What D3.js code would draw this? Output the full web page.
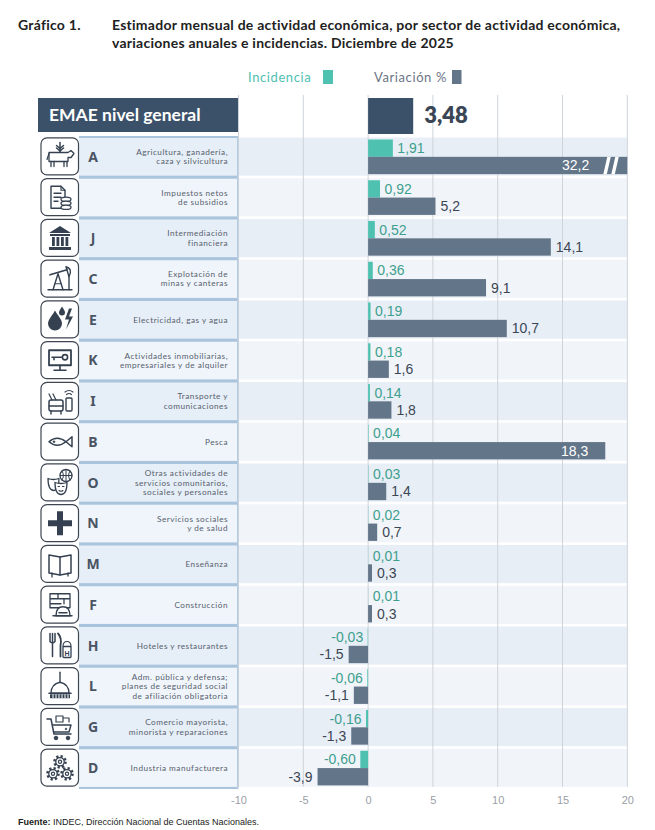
<!DOCTYPE html>
<html><head><meta charset="utf-8">
<script src="https://cdn.jsdelivr.net/npm/d3@7"></script>
<style>
body{margin:0;background:#fff;}
svg{display:block;}
</style></head><body>
<div id="chart"></div>
<script>
// ---------------- DATA ----------------
const codes = ["A","","J","C","E","K","I","B","O","N","M","F","H","L","G","D"];
const sectors = [
  ["Agricultura, ganadería,","caza y silvicultura"],
  ["Impuestos netos","de subsidios"],
  ["Intermediación","financiera"],
  ["Explotación de","minas y canteras"],
  ["Electricidad, gas y agua"],
  ["Actividades inmobiliarias,","empresariales y de alquiler"],
  ["Transporte y","comunicaciones"],
  ["Pesca"],
  ["Otras actividades de","servicios comunitarios,","sociales y personales"],
  ["Servicios sociales","y de salud"],
  ["Enseñanza"],
  ["Construcción"],
  ["Hoteles y restaurantes"],
  ["Adm. pública y defensa;","planes de seguridad social","de afiliación obligatoria"],
  ["Comercio mayorista,","minorista y reparaciones"],
  ["Industria manufacturera"]
];
const incidencia = [1.91,0.92,0.52,0.36,0.19,0.18,0.14,0.04,0.03,0.02,0.01,0.01,-0.03,-0.06,-0.16,-0.60];
const variacion = [32.2,5.2,14.1,9.1,10.7,1.6,1.8,18.3,1.4,0.7,0.3,0.3,-1.5,-1.1,-1.3,-3.9];
const emaeLabel = "EMAE nivel general";
const emaeValue = 3.48;
const tickValues = [-10,-5,0,5,10,15,20];
const iconKeys = ["agro","tax","bank","oil","energy","realestate","transport","fish","masks","health","book","build","hotel","gov","cart","gears"];
const titleLead = "Gráfico 1.";
const titleLines = ["Estimador mensual de actividad económica, por sector de actividad económica,","variaciones anuales e incidencias. Diciembre de 2025"];
const legendLabels = ["Incidencia","Variación %"];
const sourceBold = "Fuente:";
const sourceText = " INDEC, Dirección Nacional de Cuentas Nacionales.";

// ---------------- LAYOUT ----------------
const W = 655, H = 830;
const C_TEAL = "#4fc1b1", C_TEAL_TXT = "#3f9f8e", C_BAR = "#637588", C_NAVY = "#3b5169", C_ICON = "#354150";
const NUM_FONT = "'Liberation Sans Narrow','Arial Narrow','Liberation Sans',Arial,sans-serif";
const GEO_FONT = "Lato,'Noto Sans',sans-serif";
const locale = d3.formatLocale({decimal: ",", thousands: ".", grouping: [3], currency: ["$", ""], minus: "-"});
const fmt = locale.format(".2f");
const fmt1 = locale.format(".1f");

const svg = d3.select("#chart").append("svg").attr("width", W).attr("height", H);

const x = d3.scaleLinear().domain([-10, 20]).range([238.5, 627.3]);
const rowTop = 137.5, rowH = 40.75;
const y = d3.scaleBand().domain(d3.range(codes.length)).range([rowTop, rowTop + rowH * codes.length]).paddingInner(0).paddingOuter(0);
const gap = 2.6;
const barH = (rowH - gap - 3.5) / 2;

// Title
const tg = svg.append("g").attr("font-family", GEO_FONT).attr("font-weight", 700).attr("font-size", 14).attr("fill", "#222").attr("letter-spacing", 0.25);
tg.append("text").attr("x", 18).attr("y", 30).text(titleLead);
titleLines.forEach((t, i) => tg.append("text").attr("x", 112).attr("y", 30 + i * 18).text(t));

// Legend
const lg = svg.append("g").attr("font-family", GEO_FONT).attr("font-size", 13).attr("letter-spacing", 0.6);
lg.append("text").attr("x", 248).attr("y", 81.5).attr("fill", C_TEAL).text(legendLabels[0]);
lg.append("rect").attr("x", 323).attr("y", 70).attr("width", 10).attr("height", 14).attr("fill", C_TEAL);
lg.append("text").attr("x", 374).attr("y", 81.5).attr("fill", "#6b7584").text(legendLabels[1]);
lg.append("rect").attr("x", 452).attr("y", 70).attr("width", 9.5).attr("height", 14).attr("fill", C_BAR);

// Stripes (chart area)
svg.append("g").selectAll("rect").data(codes).join("rect")
  .attr("x", x(-10)).attr("width", x(20) - x(-10))
  .attr("y", (d, i) => y(i)).attr("height", rowH - gap)
  .attr("fill", (d, i) => i % 2 === 0 ? "#e7eef6" : "#f1f5fa");

// Gridlines
svg.append("g").selectAll("line").data(tickValues).join("line")
  .attr("x1", d => x(d)).attr("x2", d => x(d))
  .attr("y1", 95).attr("y2", y(codes.length - 1) + rowH - gap)
  .attr("stroke", "#cfd4da").attr("stroke-width", 1);

// Header row
svg.append("rect").attr("x", 38).attr("y", 98).attr("width", 200).attr("height", 34).attr("fill", C_NAVY);
svg.append("text").attr("x", 49).attr("y", 121).attr("fill", "#fff").attr("font-family", GEO_FONT)
  .attr("font-weight", 700).attr("font-size", 17.5).text(emaeLabel);
svg.append("rect").attr("x", x(0)).attr("y", 98).attr("width", x(emaeValue) - x(0)).attr("height", 36).attr("fill", C_NAVY);
svg.append("text").attr("x", x(emaeValue) + 11).attr("y", 123).attr("fill", "#3a4656").attr("font-family", GEO_FONT)
  .attr("font-weight", 800).attr("font-size", 22).text(fmt(emaeValue));

// Left panel
const panel = svg.append("g");
panel.append("rect").attr("x", 79).attr("y", rowTop - 1.5).attr("width", 159).attr("height", rowH * codes.length + 1)
  .attr("fill", "#aac4dd");
panel.selectAll("rect.cell").data(codes).join("rect").attr("class", "cell")
  .attr("x", 79).attr("width", 158).attr("y", (d, i) => y(i) + 0.5).attr("height", rowH - gap - 0.5)
  .attr("fill", (d, i) => i % 2 === 0 ? "#e6eef7" : "#f0f5fb");
panel.append("line").attr("x1", 238).attr("x2", 238).attr("y1", rowTop - 1.5).attr("y2", rowTop + rowH * codes.length)
  .attr("stroke", "#c3d2e1").attr("stroke-width", 1);

const rows = panel.selectAll("g.row").data(codes).join("g").attr("class", "row")
  .attr("transform", (d, i) => `translate(0,${y(i)})`);
rows.append("rect").attr("x", 41).attr("y", 0.3).attr("width", 37.5).attr("height", rowH - gap - 1)
  .attr("rx", 6).attr("fill", "#fff").attr("stroke", "#3e4652").attr("stroke-width", 1.2);
rows.append("text").attr("x", 93).attr("y", (rowH - gap) / 2 + 5).attr("text-anchor", "middle")
  .attr("font-family", "'Noto Sans',sans-serif").attr("font-weight", 700).attr("font-size", 14).attr("fill", "#4a5463")
  .text(d => d);
rows.each(function (d, i) {
  const lines = sectors[i];
  const g = d3.select(this);
  const lh = 9.2;
  const cy = (rowH - gap) / 2;
  lines.forEach((t, k) => {
    g.append("text").attr("x", 228).attr("y", cy + (k - (lines.length - 1) / 2) * lh + 3)
      .attr("text-anchor", "end").attr("font-family", GEO_FONT).attr("font-size", 8.2)
      .attr("letter-spacing", 0.5).attr("fill", "#56606d").text(t);
  });
  const ig = g.append("g").attr("transform", "translate(41,0)");
  drawIcon(ig, iconKeys[i]);
});

// Incidence bars
const clip = v => Math.max(-10, Math.min(20, v));
svg.append("g").selectAll("rect").data(incidencia).join("rect")
  .attr("x", d => x(Math.min(0, d))).attr("width", d => Math.abs(x(d) - x(0)))
  .attr("y", (d, i) => y(i) + 2).attr("height", barH).attr("fill", C_TEAL);
svg.append("g").selectAll("text").data(incidencia).join("text")
  .attr("x", d => d >= 0 ? x(d) + 4.5 : x(d) - 4.5)
  .attr("text-anchor", d => d >= 0 ? "start" : "end")
  .attr("y", (d, i) => y(i) + 2 + barH / 2 + 5)
  .attr("font-family", NUM_FONT).attr("font-size", 14).attr("fill", C_TEAL_TXT)
  .text(d => fmt(d));

// Variation bars
const vg = svg.append("g");
vg.selectAll("rect").data(variacion).join("rect")
  .attr("x", d => x(Math.min(0, clip(d)))).attr("width", d => Math.abs(x(clip(d)) - x(0)))
  .attr("y", (d, i) => y(i) + 2 + barH).attr("height", barH).attr("fill", C_BAR);
// break marks for clipped bars
variacion.forEach((d, i) => {
  if (d > 20) {
    const yb = y(i) + 2 + barH;
    [0, 8].forEach(off => {
      const x0 = x(20) - 24 + off;
      vg.append("path").attr("d", `M${x0 + 4},${yb} L${x0 + 7.5},${yb} L${x0 + 3.5},${yb + barH} L${x0},${yb + barH} Z`).attr("fill", "#fff");
    });
  }
});
vg.selectAll("text").data(variacion).join("text")
  .each(function (d, i) {
    const t = d3.select(this);
    const end = x(clip(d));
    const yy = y(i) + 2 + barH + barH / 2 + 5;
    t.attr("y", yy).attr("font-family", NUM_FONT).attr("font-size", 14).text(fmt1(d));
    if (d < 0) {
      t.attr("x", end - 5).attr("text-anchor", "end").attr("fill", "#3c4654");
    } else if (d > 20) {
      t.attr("x", x(20) - 38).attr("text-anchor", "end").attr("fill", "#fff");
    } else if (end + 30 > x(20)) {
      t.attr("x", end - 17).attr("text-anchor", "end").attr("fill", "#fff");
    } else {
      t.attr("x", end + 5).attr("text-anchor", "start").attr("fill", "#3c4654");
    }
  });

// Axis
const axis = d3.axisBottom(x).tickValues(tickValues).tickSize(0).tickPadding(0).tickFormat(locale.format("d"));
const ag = svg.append("g").attr("transform", `translate(0,796)`).call(axis);
ag.select(".domain").remove();
ag.selectAll("text").attr("font-family", NUM_FONT).attr("font-size", 11).attr("fill", "#9aa0a7").attr("dy", "0.75em").attr("y", 0);

// Source
const st = svg.append("text").attr("x", 18).attr("y", 825).attr("font-family", "'Liberation Sans',Arial,sans-serif").attr("font-size", 9).attr("fill", "#222");
st.append("tspan").attr("font-weight", 700).text(sourceBold);
st.append("tspan").text(sourceText);

// ---------------- ICONS ----------------
function drawIcon(g, key) {
  const c = C_ICON;
  const s = (p, w) => g.append("path").attr("d", p).attr("fill", "none").attr("stroke", c).attr("stroke-width", w || 1.5).attr("stroke-linejoin", "round").attr("stroke-linecap", "round");
  const f = p => g.append("path").attr("d", p).attr("fill", c);
  const circ = (cx, cy, r, fill, w) => g.append("circle").attr("cx", cx).attr("cy", cy).attr("r", r).attr("fill", fill || "none").attr("stroke", c).attr("stroke-width", w || 1.5);
  switch (key) {
    case "agro":
      s("M19,5 V14"); s("M15.5,8 L19,11 L22.5,8 M15.5,10.5 L19,13.5 L22.5,10.5");
      s("M8,15 H27 L30,13 L33,16 L30,20 L27,20 V24 H8 Z", 1.3);
      s("M10,24 V29 M13,24 V29 M23,24 V29 M26,24 V29", 1.3); s("M8,16 L6,22", 1.2);
      break;
    case "tax":
      s("M10,8 H20 L24,12 V30 H10 Z", 1.4); s("M20,8 V12 H24", 1.2);
      s("M13,15 H20 M13,19 H20 M13,23 H17", 1.3);
      [21, 25, 29].forEach(cy => g.append("ellipse").attr("cx", 25).attr("cy", cy).attr("rx", 5).attr("ry", 2.2).attr("fill", "#fff").attr("stroke", c).attr("stroke-width", 1.3));
      break;
    case "bank":
      f("M8,14 L19,7 L30,14 Z"); f("M9,15 H29 V17 H9 Z");
      [11, 15.5, 20, 24.5].forEach(xx => g.append("rect").attr("x", xx).attr("y", 18).attr("width", 2.8).attr("height", 9).attr("fill", c));
      f("M8,28 H30 V31 H8 Z");
      break;
    case "oil":
      s("M9,15 L26,10", 1.8); s("M25,7 Q32,9 28,17 Z", 1.4);
      s("M12,30 L17,14 L22,30", 1.4); s("M14,24 H20", 1.2); s("M7,30 H31", 1.4); s("M28,17 V30", 1.4);
      break;
    case "energy":
      f("M14,10 C12,14 7,19 7,23 A7,7 0 0 0 21,23 C21,19 16,14 14,10 Z");
      f("M21,6 C20,8 18,10 18,12 A3,3 0 0 0 24,12 C24,10 22,8 21,6 Z");
      f("M28,8 L24,19 H28 L25,29 L32,16 H28 L31,8 Z");
      break;
    case "realestate":
      s("M8,9 H30 V24 H8 Z", 1.8); s("M19,24 V28 M13,29 H25", 1.6);
      circ(24, 16, 2.6, "none", 1.6); s("M11,16 H21 M13,16 V18.5", 1.6);
      break;
    case "transport":
      g.append("rect").attr("x", 8).attr("y", 18).attr("width", 14).attr("height", 11).attr("rx", 2).attr("fill", "none").attr("stroke", c).attr("stroke-width", 1.5);
      s("M8,24 H22 M10,29 V32 M20,29 V32", 1.4); s("M11,18 L8,12 M15,18 L12,12", 1.2);
      g.append("rect").attr("x", 25).attr("y", 16).attr("width", 6).attr("height", 13).attr("rx", 1).attr("fill", "none").attr("stroke", c).attr("stroke-width", 1.4);
      s("M24,10 Q28,7 32,10 M25.5,12.5 Q28,10.5 30.5,12.5", 1.2);
      break;
    case "fish":
      s("M8,19 Q16,12 25,19 Q16,26 8,19 Z", 1.5); s("M25,19 L31,14 V24 Z", 1.5); circ(13, 19, 1, c, 0.5);
      break;
    case "masks":
      circ(25, 12, 6, "#fff", 1.3); s("M19,12 H31 M25,6 V18 M21,7.5 Q24,12 21,16.5 M29,7.5 Q26,12 29,16.5", 1);
      s("M7,15 Q7,27 13,27 Q18,27 18,15 Q12,17 7,15 Z", 1.3);
      g.append("path").attr("d", "M14,19 Q14,31 20,31 Q26,31 26,19 Q20,21 14,19 Z").attr("fill", "#fff").attr("stroke", c).attr("stroke-width", 1.3);
      s("M17,23 H18.5 M21.5,23 H23 M18,27 Q20,28.5 22,27", 1.1);
      break;
    case "health":
      f("M16,7 H22 V16 H31 V22 H22 V31 H16 V22 H7 V16 H16 Z");
      break;
    case "book":
      s("M8,10 V28 L19,30 L30,28 V10 L19,12 Z", 1.5); s("M19,12 V30", 1.5); s("M11,28 V32 M27,28 V31", 1.3);
      break;
    case "build":
      s("M9,8 H29 V22 H9 Z M9,13 H29 M9,18 H20 M17,8 V13 M23,13 V18", 1.3);
      g.append("path").attr("d", "M15,30 Q15,21 22,21 Q29,21 29,30 Z").attr("fill", "#fff").attr("stroke", c).attr("stroke-width", 1.4);
      s("M12,30 H31 M18,27 H26", 1.5);
      break;
    case "hotel":
      s("M9,7 V15 M11.5,7 V30 M14,7 V15 M9,15 Q11.5,18 14,15", 1.5);
      s("M17,7 Q21,11 19.5,19 V30", 1.8);
      g.append("rect").attr("x", 22).attr("y", 20).attr("width", 8).attr("height", 11).attr("rx", 1).attr("fill", "#fff").attr("stroke", c).attr("stroke-width", 1.3);
      g.append("text").attr("x", 26).attr("y", 29).attr("text-anchor", "middle").attr("font-size", 7).attr("font-weight", 700).attr("font-family", "Liberation Sans").attr("fill", c).text("H");
      s("M22,20 Q22,15 26,15 Q30,15 30,20", 1.2);
      break;
    case "gov":
      s("M19,5 V15", 1.4); s("M10,26 Q10,17 19,15 Q28,17 28,26 Z", 1.4); s("M8,26 H30", 1.6);
      f("M9,27 H29 V31 H9 Z"); g.append("path").attr("d", "M12,27 V31 M15,27 V31 M18,27 V31 M21,27 V31 M24,27 V31 M27,27 V31").attr("stroke", "#fff").attr("stroke-width", 1);
      break;
    case "cart":
      s("M6,11 H10 L13,26 H30", 1.5); s("M11.5,17 H30 L28,24 H13", 1.4);
      circ(15, 30, 1.8, c, 1); circ(27, 30, 1.8, c, 1);
      s("M15,8 H22 V14 H15 Z M22,10 H28 V14", 1.2); circ(25, 21, 0.8, c, 0.8);
      break;
    case "gears":
      [[12, 25], [26, 25], [19, 13]].forEach(([cx, cy]) => {
        g.append("circle").attr("cx", cx).attr("cy", cy).attr("r", 5.5).attr("fill", "none").attr("stroke", c).attr("stroke-width", 2.6).attr("stroke-dasharray", "2.2,2.1");
        circ(cx, cy, 4.2, "none", 1.3); circ(cx, cy, 1.6, "none", 1.2);
      });
      break;
  }
}
</script>
</body></html>
